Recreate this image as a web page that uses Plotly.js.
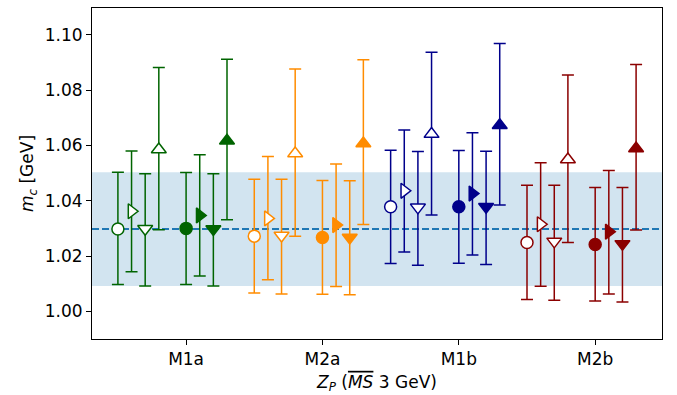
<!DOCTYPE html>
<html>
<head>
<meta charset="utf-8">
<script src="https://cdn.plot.ly/plotly-3.0.1.min.js"></script>
<style>html,body{margin:0;padding:0;background:#fff;}</style>
</head>
<body>
<div id="chart" style="width:677px;height:395px;"></div>
<script>
const groups = ['M1a', 'M2a', 'M1b', 'M2b'];
const offsets = [-0.5, -0.4, -0.3, -0.2, 0, 0.1, 0.2, 0.3];
const symbols = ['circle', 'triangle-right', 'triangle-down', 'triangle-up',
                 'circle', 'triangle-right', 'triangle-down', 'triangle-up'];
const filled = [false, false, false, false, true, true, true, true];
const colors = ['#006400', '#ff8c00', '#00008b', '#8b0000'];

const M1a_mid = [1.0298, 1.0362, 1.0299, 1.0585, 1.0300, 1.0347, 1.0298, 1.0617];
const M1a_hi  = [1.0503, 1.0580, 1.0498, 1.0882, 1.0502, 1.0566, 1.0498, 1.0912];
const M1a_lo  = [1.0097, 1.0143, 1.0092, 1.0295, 1.0097, 1.0128, 1.0092, 1.0331];

const M2a_mid = [1.0272, 1.0336, 1.0274, 1.0571, 1.0267, 1.0312, 1.0267, 1.0607];
const M2a_hi  = [1.0478, 1.0560, 1.0478, 1.0876, 1.0473, 1.0533, 1.0472, 1.0910];
const M2a_lo  = [1.0066, 1.0114, 1.0063, 1.0272, 1.0062, 1.0090, 1.0060, 1.0314];

const M1b_mid = [1.0378, 1.0436, 1.0376, 1.0641, 1.0378, 1.0426, 1.0378, 1.0673];
const M1b_hi  = [1.0583, 1.0656, 1.0578, 1.0937, 1.0582, 1.0646, 1.0579, 1.0969];
const M1b_lo  = [1.0173, 1.0215, 1.0167, 1.0348, 1.0174, 1.0204, 1.0169, 1.0385];

const M2b_mid = [1.0249, 1.0315, 1.0253, 1.0549, 1.0242, 1.0288, 1.0244, 1.0589];
const M2b_hi  = [1.0456, 1.0537, 1.0456, 1.0855, 1.0448, 1.0509, 1.0448, 1.0893];
const M2b_lo  = [1.0043, 1.0091, 1.0040, 1.0249, 1.0037, 1.0063, 1.0034, 1.0294];

const band = [1.0092, 1.0298, 1.0503]; // lower, central, upper

const mids = [M1a_mid, M2a_mid, M1b_mid, M2b_mid];
const his = [M1a_hi, M2a_hi, M1b_hi, M2b_hi];
const los = [M1a_lo, M2a_lo, M1b_lo, M2b_lo];

const traces = groups.map((g, gi) => {
  const col = colors[gi];
  return {
    type: 'scatter',
    mode: 'markers',
    name: g,
    x: offsets.map(o => gi + o),
    y: mids[gi],
    error_y: {
      type: 'data',
      symmetric: false,
      array: his[gi].map((h, i) => h - mids[gi][i]),
      arrayminus: los[gi].map((l, i) => mids[gi][i] - l),
      color: col,
      thickness: 1.5,
      width: 6
    },
    marker: {
      symbol: symbols,
      size: symbols.map(s => s === 'circle' ? 12 : 13),
      opacity: 1,
      color: filled.map(f => f ? col : '#ffffff'),
      line: { color: col, width: 1.5 }
    },
    showlegend: false,
    hoverinfo: 'x+y'
  };
});

const font = { family: 'DejaVu Sans, sans-serif', size: 18, color: '#000' };

const layout = {
  width: 677,
  height: 395,
  margin: { l: 92, r: 15, t: 8, b: 56 },
  paper_bgcolor: '#fff',
  plot_bgcolor: '#fff',
  font: font,
  xaxis: {
    range: [-0.69, 3.49],
    tickvals: [0, 1, 2, 3],
    ticktext: groups,
    showline: true, mirror: true, linecolor: '#000', linewidth: 1,
    ticks: 'outside', ticklen: 5, tickwidth: 1, tickcolor: '#000',
    showgrid: false, zeroline: false,
    tickfont: { size: 17 },
    title: { text: '<i>Z<sub>P</sub></i> (<span style="text-decoration:overline"><i>MS</i></span> 3 GeV)', font: { size: 17 }, standoff: 7 }
  },
  yaxis: {
    range: [0.99, 1.1097],
    tickvals: [1.00, 1.02, 1.04, 1.06, 1.08, 1.10],
    tickformat: '.2f',
    showline: true, mirror: true, linecolor: '#000', linewidth: 1,
    ticks: 'outside', ticklen: 5, tickwidth: 1, tickcolor: '#000',
    showgrid: false, zeroline: false,
    tickfont: { size: 17 },
    title: { text: '<i>m<sub>c</sub></i> [GeV]', font: { size: 17 }, standoff: 6 }
  },
  shapes: [
    { type: 'rect', xref: 'paper', x0: 0, x1: 1, yref: 'y', y0: band[0], y1: band[2],
      fillcolor: 'rgba(31,119,180,0.2)', line: { width: 0 }, layer: 'below' },
    { type: 'line', xref: 'paper', x0: 0, x1: 1, yref: 'y', y0: band[1], y1: band[1],
      line: { color: '#1f77b4', width: 2, dash: '7px,3px' }, layer: 'below' }
  ]
};

Plotly.newPlot('chart', traces, layout, { staticPlot: true, displayModeBar: false });
</script>
</body>
</html>
